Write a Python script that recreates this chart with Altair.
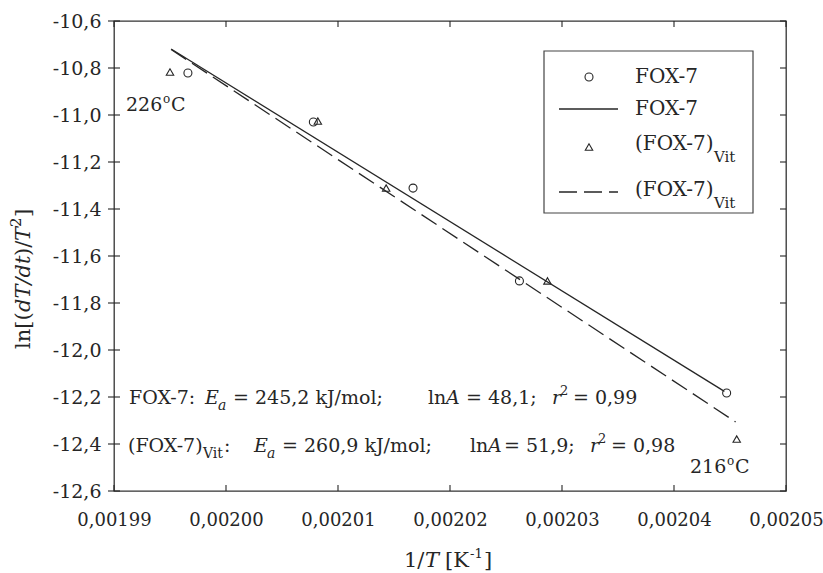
import altair as alt
import pandas as pd

# ---- data ----
fox_x = [0.0019966, 0.0020078, 0.0020167, 0.0020262, 0.0020447]
fox_y = [-10.821, -11.030, -11.311, -11.706, -12.183]
vit_x = [0.0019950, 0.0020082, 0.0020143, 0.0020287, 0.0020456]
vit_y = [-10.817, -11.026, -11.311, -11.706, -12.379]
fox_fit_x = [0.0019951, 0.0020445]
fox_fit_y = [-10.719, -12.176]
vit_fit_x = [0.0019951, 0.0020455]
vit_fit_y = [-10.721, -12.306]
x_ticks = [0.00199, 0.00200, 0.00201, 0.00202, 0.00203, 0.00204, 0.00205]
y_ticks = [-12.6, -12.4, -12.2, -12.0, -11.8, -11.6, -11.4, -11.2, -11.0, -10.8, -10.6]

FONT = "DejaVu Serif"
INK = "#262626"
W, H = 672, 470

xs = alt.Scale(domain=[0.00199, 0.00205], nice=False, zero=False)
ys = alt.Scale(domain=[-12.6, -10.6], nice=False, zero=False)

fox = pd.DataFrame({"x": fox_x, "y": fox_y})
vit = pd.DataFrame({"x": vit_x, "y": vit_y})
fox_fit = pd.DataFrame({"x": fox_fit_x, "y": fox_fit_y})
vit_fit = pd.DataFrame({"x": vit_fit_x, "y": vit_fit_y})
xt = pd.DataFrame({"v": x_ticks})
yt = pd.DataFrame({"v": y_ticks})
one = pd.DataFrame({"k": [0]})

xlab = "replace(format(datum.value, '.5f'), '.', ',')"
ylab = "replace(replace(format(datum.value, '.1f'), '.', ','), '\u2212', '-')"

base_x = alt.X("x:Q", scale=xs, axis=alt.Axis(values=x_ticks, labelExpr=xlab, ticks=False, domain=False,
                                               grid=False, labelPadding=20, labelFont=FONT, labelFontSize=18,
                                               labelColor=INK, title=None, labelFlush=False))
base_y = alt.Y("y:Q", scale=ys, axis=alt.Axis(values=y_ticks, labelExpr=ylab, ticks=False, domain=False,
                                               grid=False, labelPadding=13, labelFont=FONT, labelFontSize=19,
                                               labelColor=INK, title=None, labelFlush=False))

pts_fox = alt.Chart(fox).mark_point(shape="circle", filled=False, size=64, strokeWidth=1.1, color=INK,
                                    opacity=1).encode(x=base_x, y=base_y)
pts_vit = alt.Chart(vit).mark_point(shape="triangle-up", filled=False, size=55, strokeWidth=1.1, color=INK,
                                    opacity=1).encode(x="x:Q", y="y:Q")
line_fox = alt.Chart(fox_fit).mark_line(color=INK, strokeWidth=1.3).encode(x="x:Q", y="y:Q")
line_vit = alt.Chart(vit_fit).mark_line(color=INK, strokeWidth=1.3, strokeDash=[18, 7]).encode(x="x:Q", y="y:Q")

# inward ticks on all four sides, left ticks also outward
tk = dict(color=INK, strokeWidth=1.1)
t_bot = alt.Chart(xt).mark_rule(**tk).encode(x=alt.X("v:Q", scale=xs), y=alt.value(H), y2=alt.value(H - 6))
t_top = alt.Chart(xt).mark_rule(**tk).encode(x=alt.X("v:Q", scale=xs), y=alt.value(0), y2=alt.value(6))
t_left = alt.Chart(yt).mark_rule(**tk).encode(y=alt.Y("v:Q", scale=ys), x=alt.value(-6), x2=alt.value(6))
t_right = alt.Chart(yt).mark_rule(**tk).encode(y=alt.Y("v:Q", scale=ys), x=alt.value(W), x2=alt.value(W - 6))


def T(s, x, y, size=19, italic=False, angle=0, align="left", baseline="alphabetic"):
    return alt.Chart(one).mark_text(text=s, align=align, baseline=baseline, font=FONT, fontSize=size,
                                    fontStyle="italic" if italic else "normal", angle=angle,
                                    color=INK).encode(x=alt.value(x), y=alt.value(y))


texts = []
# temperature labels
texts += [T("226", 12, 90), T("o", 49, 82, size=12), T("C", 57, 90)]
texts += [T("216", 576, 452), T("o", 613, 444, size=12), T("C", 621, 452)]

# kinetic parameter lines
b1, b2 = 383, 431
texts += [T("FOX-7:", 15, b1), T("E", 91, b1, italic=True), T("a", 104, b1 + 6, size=14, italic=True),
          T("= 245,2 kJ/mol;", 119, b1), T("ln", 314, b1), T("A", 332, b1, italic=True),
          T("= 48,1;", 352, b1), T("r", 438, b1, italic=True), T("2", 446, b1 - 9, size=13),
          T("= 0,99", 459, b1)]
texts += [T("(FOX-7)", 14, b2), T("Vit", 89, b2 + 6, size=14), T(":", 110, b2),
          T("E", 140, b2, italic=True), T("a", 153, b2 + 6, size=14, italic=True),
          T("= 260,9 kJ/mol;", 168, b2), T("ln", 356, b2), T("A", 374, b2, italic=True),
          T("= 51,9;", 390, b2), T("r", 476, b2, italic=True), T("2", 484, b2 - 9, size=13),
          T("= 0,98", 497, b2)]

# axis titles
bx = 546
texts += [T("1/", 290, bx, size=21), T("T", 311, bx, size=21, italic=True), T("[K", 331, bx, size=21),
          T("-1", 356, bx - 9, size=13), T("]", 370, bx, size=21)]
yx = -84
texts += [T("ln[(", yx, 328, size=21, angle=270), T("dT/dt", yx, 291, size=21, italic=True, angle=270),
          T(")/", yx, 235, size=21, angle=270), T("T", yx, 220, size=21, italic=True, angle=270),
          T("2", yx - 9, 206, size=15, angle=270), T("]", yx, 196, size=21, angle=270)]

# legend
box = alt.Chart(one).mark_rect(fill="white", stroke="#444444", strokeWidth=1.2).encode(
    x=alt.value(430), x2=alt.value(639), y=alt.value(30), y2=alt.value(192))
leg = [box,
       alt.Chart(one).mark_point(shape="circle", filled=False, size=64, strokeWidth=1.1, color=INK,
                                 opacity=1).encode(x=alt.value(475), y=alt.value(56)),
       T("FOX-7", 521, 56, size=20, baseline="middle"),
       alt.Chart(one).mark_rule(color=INK, strokeWidth=1.3).encode(x=alt.value(445), x2=alt.value(504),
                                                                   y=alt.value(88)),
       T("FOX-7", 521, 88, size=20, baseline="middle"),
       alt.Chart(one).mark_point(shape="triangle-up", filled=False, size=55, strokeWidth=1.1, color=INK,
                                 opacity=1).encode(x=alt.value(475), y=alt.value(126)),
       T("(FOX-7)", 521, 123, size=20, baseline="middle"),
       T("Vit", 600, 136, size=15, baseline="middle"),
       alt.Chart(one).mark_rule(color=INK, strokeWidth=1.3, strokeDash=[18, 7]).encode(
           x=alt.value(445), x2=alt.value(504), y=alt.value(171)),
       T("(FOX-7)", 521, 169, size=20, baseline="middle"),
       T("Vit", 600, 182, size=15, baseline="middle")]

chart = alt.layer(pts_fox, pts_vit, line_fox, line_vit, t_bot, t_top, t_left, t_right, *texts, *leg).properties(
    width=W, height=H,
    autosize=alt.AutoSizeParams(type="none"),
    padding={"left": 114, "top": 21, "right": 37, "bottom": 82},
    background="white",
).configure_view(stroke="#333333", strokeWidth=1.3)

chart.save("out.html", embed_options={"renderer": "svg", "actions": False})
